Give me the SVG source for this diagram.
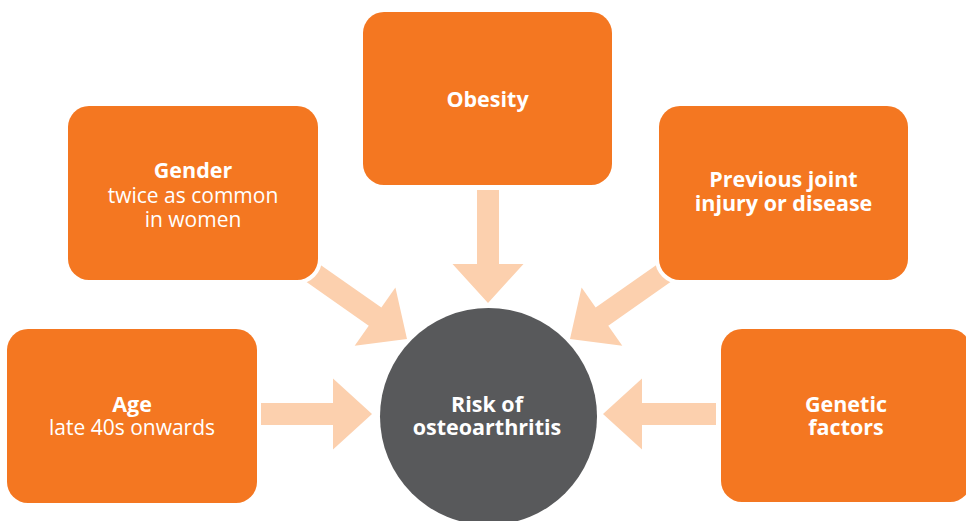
<svg xmlns="http://www.w3.org/2000/svg" width="966" height="521" viewBox="0 0 966 521">
<defs>
<style>
.box{fill:#F47721;stroke:#FFFFFF;stroke-width:8;paint-order:stroke}
.arrow{fill:#FCD0AE}
.t{font-family:"Open Sans","Noto Sans",sans-serif;fill:#FFFFFF;text-anchor:middle}
.b{font-weight:bold;font-size:21.5px}
.r{font-weight:normal;font-size:21px}
</style>
<path id="arr" d="M0,0 L-39,-35.5 L-39,-11 L-113,-11 L-113,11 L-39,11 L-39,35.5 Z"/>
<path id="arrd" d="M0,0 L-39,-35.5 L-39,-11 L-128,-11 L-128,11 L-39,11 L-39,35.5 Z"/>
</defs>
<rect width="966" height="521" fill="#FFFFFF"/>
<g id="connectors">
<use href="#arr" class="arrow" transform="translate(372,414)"/>
<use href="#arr" class="arrow" transform="translate(603,414) rotate(180)"/>
<use href="#arr" class="arrow" transform="translate(488,303) rotate(90)"/>
<use href="#arrd" class="arrow" transform="translate(407,339) rotate(35)"/>
<use href="#arrd" class="arrow" transform="translate(570,339) rotate(145)"/>
</g>
<g id="node-age">
<rect class="box" x="7" y="329" width="250" height="174" rx="21"/>
<text class="t b" x="132" y="412">Age</text>
<text class="t r" x="132" y="435">late 40s onwards</text>
</g>
<g id="node-gender">
<rect class="box" x="68" y="106" width="250" height="174" rx="21"/>
<text class="t b" x="193" y="178">Gender</text>
<text class="t r" x="193" y="202.5">twice as common</text>
<text class="t r" x="193" y="227">in women</text>
</g>
<g id="node-obesity">
<rect class="box" x="363" y="12" width="249" height="173" rx="21"/>
<text class="t b" x="487.5" y="107">Obesity</text>
</g>
<g id="node-previous">
<rect class="box" x="659" y="106" width="249" height="174" rx="21"/>
<text class="t b" x="783.5" y="187">Previous joint</text>
<text class="t b" x="783.5" y="211">injury or disease</text>
</g>
<g id="node-genetic">
<rect class="box" x="721" y="329" width="250" height="173" rx="21"/>
<text class="t b" x="846" y="412">Genetic</text>
<text class="t b" x="846" y="435">factors</text>
</g>
<g id="node-risk">
<circle cx="488.5" cy="416.5" r="108.5" fill="#58595B"/>
<text class="t b" x="487" y="412">Risk of</text>
<text class="t b" x="487" y="435">osteoarthritis</text>
</g>
</svg>
